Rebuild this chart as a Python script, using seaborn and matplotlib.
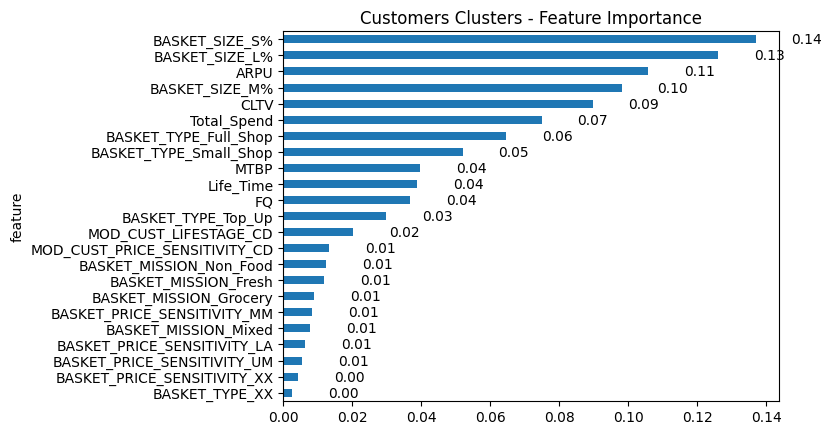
import matplotlib
matplotlib.use("Agg")
import matplotlib.pyplot as plt
import seaborn as sns
import pandas as pd

features = [
    "BASKET_SIZE_S%", "BASKET_SIZE_L%", "ARPU", "BASKET_SIZE_M%", "CLTV",
    "Total_Spend", "BASKET_TYPE_Full_Shop", "BASKET_TYPE_Small_Shop", "MTBP",
    "Life_Time", "FQ", "BASKET_TYPE_Top_Up", "MOD_CUST_LIFESTAGE_CD",
    "MOD_CUST_PRICE_SENSITIVITY_CD", "BASKET_MISSION_Non_Food",
    "BASKET_MISSION_Fresh", "BASKET_MISSION_Grocery",
    "BASKET_PRICE_SENSITIVITY_MM", "BASKET_MISSION_Mixed",
    "BASKET_PRICE_SENSITIVITY_LA", "BASKET_PRICE_SENSITIVITY_UM",
    "BASKET_PRICE_SENSITIVITY_XX", "BASKET_TYPE_XX",
]
importance = [
    0.1370, 0.1261, 0.1058, 0.0981, 0.0897,
    0.0749, 0.0647, 0.0520, 0.0397,
    0.0389, 0.0368, 0.0299, 0.0202,
    0.0133, 0.0124,
    0.0118, 0.0089,
    0.0084, 0.0078,
    0.0063, 0.0055,
    0.0043, 0.0026,
]

df = pd.DataFrame({"feature": features, "importance": importance})

fig = plt.figure(figsize=(8.3, 4.35), dpi=100)
ax = fig.add_axes([0.3412, 0.0766, 0.5977, 0.8491])
sns.barplot(data=df, x="importance", y="feature", orient="h", color="#1f77b4",
            width=0.5, saturation=1, ax=ax)
ax.set_xlim(0, max(importance) * 1.05)
ax.set_xlabel("")
ax.set_ylabel("feature")
ax.set_title("Customers Clusters - Feature Importance")
for i, v in enumerate(importance):
    ax.text(v + 0.0104, i, f"{v:.2f}", va="center", ha="left", fontsize=10)

fig.savefig("out.png", dpi=100)
